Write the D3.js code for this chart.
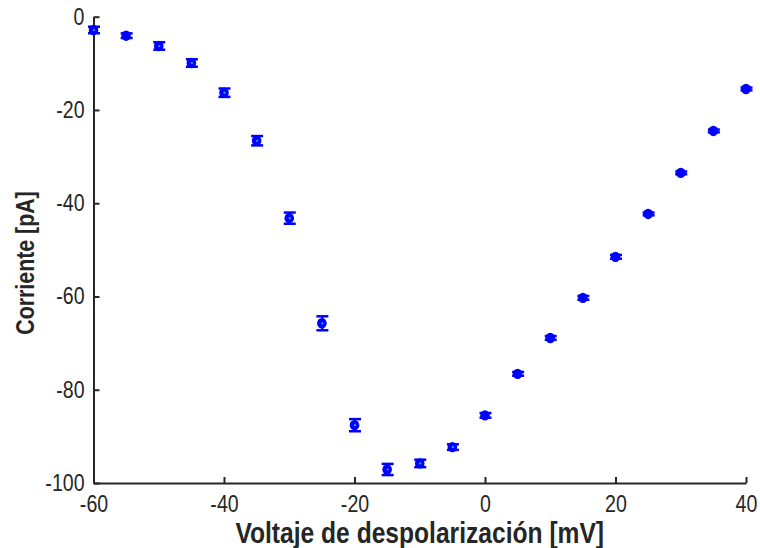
<!DOCTYPE html>
<html>
<head>
<meta charset="utf-8">
<script src="https://cdn.jsdelivr.net/npm/d3@7"></script>
<style>
  html, body { margin: 0; padding: 0; background: #fff; }
  svg { display: block; }
  text { font-family: "Liberation Sans", Arial, sans-serif; fill: #262626; }
</style>
</head>
<body>
<svg id="chart" width="760" height="548"></svg>
<script>
const voltages = [-60, -55, -50, -45, -40, -35, -30, -25, -20, -15, -10, -5, 0, 5, 10, 15, 20, 25, 30, 35, 40];
const currents = [-2.85, -4.07, -6.28, -9.93, -16.3, -26.6, -43.2, -65.75, -87.6, -97.1, -95.8, -92.3, -85.5, -76.6, -68.9, -60.3, -51.5, -42.3, -33.5, -24.5, -15.5];
const errors = [0.7, 0.5, 0.8, 0.8, 0.9, 1.0, 1.2, 1.5, 1.3, 1.2, 0.8, 0.6, 0.5, 0.4, 0.4, 0.4, 0.4, 0.3, 0.3, 0.3, 0.3];
const xTicks = [-60, -40, -20, 0, 20, 40];
const yTicks = [0, -20, -40, -60, -80, -100];
const xTitle = "Voltaje de despolarización [mV]";
const yTitle = "Corriente [pA]";

const svg = d3.select("#chart");
const x = d3.scaleLinear().domain([-60, 40]).range([93.5, 746]);
const y = d3.scaleLinear().domain([-100, 0]).range([483, 16.7]);
const axisColor = "#262626";

function condense(sel, k) {
  sel.each(function() {
    const w = this.getComputedTextLength();
    d3.select(this).attr("textLength", w * k).attr("lengthAdjust", "spacingAndGlyphs");
  });
}
const fmt = d => String(d);

// X axis
const xAxis = svg.append("g").attr("transform", `translate(0,${y(-100)})`)
  .call(d3.axisBottom(x).tickValues(xTicks).tickSizeInner(-6).tickSizeOuter(0).tickPadding(15).tickFormat(fmt));
xAxis.select(".domain").attr("stroke", axisColor).attr("stroke-width", 2);
xAxis.selectAll(".tick line").attr("stroke", axisColor).attr("stroke-width", 2);
xAxis.selectAll(".tick text").attr("font-size", 23).attr("fill", axisColor)
  .attr("font-family", "Liberation Sans, Arial, sans-serif").attr("dy", "0.62em").call(condense, 0.85);

// Y axis
const yAxis = svg.append("g").attr("transform", `translate(${x(-60)},0)`)
  .call(d3.axisLeft(y).tickValues(yTicks).tickSizeInner(-6).tickSizeOuter(0).tickPadding(9).tickFormat(fmt));
yAxis.select(".domain").attr("stroke", axisColor).attr("stroke-width", 2);
yAxis.selectAll(".tick line").attr("stroke", axisColor).attr("stroke-width", 2);
yAxis.selectAll(".tick text").attr("font-size", 23).attr("fill", axisColor)
  .attr("font-family", "Liberation Sans, Arial, sans-serif").call(condense, 0.85);

// Titles
svg.append("text").attr("x", (x(-60) + x(40)) / 2).attr("y", 543)
  .attr("text-anchor", "middle").attr("font-size", 30).attr("font-weight", "bold")
  .text(xTitle).call(condense, 0.82);
svg.append("text").attr("transform", `translate(34,263) rotate(-90)`)
  .attr("text-anchor", "middle").attr("font-size", 26).attr("font-weight", "bold")
  .text(yTitle).call(condense, 0.82);

// Data
const pts = voltages.map((v, i) => ({ v, c: currents[i], e: errors[i] }));
const blue = "#0000ff";
const g = svg.append("g");
const pg = g.selectAll("g.pt").data(pts).join("g").attr("class", "pt");
pg.append("line")
  .attr("x1", d => x(d.v) + 0.5).attr("x2", d => x(d.v) + 0.5)
  .attr("y1", d => y(d.c - d.e)).attr("y2", d => y(d.c + d.e))
  .attr("stroke", blue).attr("stroke-width", 2);
pg.append("line")
  .attr("x1", d => x(d.v) - 5.5).attr("x2", d => x(d.v) + 6.5)
  .attr("y1", d => y(d.c - d.e)).attr("y2", d => y(d.c - d.e))
  .attr("stroke", blue).attr("stroke-width", 2.5);
pg.append("line")
  .attr("x1", d => x(d.v) - 5.5).attr("x2", d => x(d.v) + 6.5)
  .attr("y1", d => y(d.c + d.e)).attr("y2", d => y(d.c + d.e))
  .attr("stroke", blue).attr("stroke-width", 2.5);
pg.append("ellipse")
  .attr("cx", d => x(d.v)).attr("cy", d => y(d.c))
  .attr("rx", 4.8).attr("ry", 5.2).attr("fill", blue);
pg.filter(d => d.e >= 0.6).append("circle")
  .attr("cx", d => x(d.v) + 0.5).attr("cy", d => y(d.c))
  .attr("r", 1.1).attr("fill", "#00c0c0");
</script>
</body>
</html>
